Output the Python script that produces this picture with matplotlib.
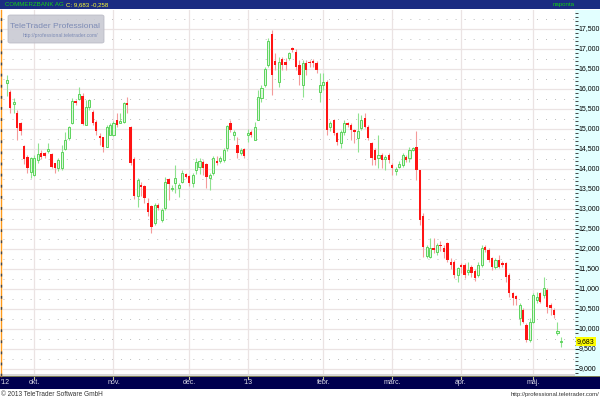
import numpy as np
import pandas as pd
import matplotlib
matplotlib.use("Agg")
import matplotlib.pyplot as plt
from matplotlib import font_manager
from matplotlib.patches import Rectangle, FancyBboxPatch
from matplotlib.transforms import blended_transform_factory
from matplotlib.ticker import MultipleLocator

# ---------------- data ----------------
opens = [16.14, 15.93, 15.63, 15.41, 15.16, 14.58, 14.31, 13.93, 13.85, 14.23,
         14.39, 14.39, 14.45, 14.38, 14.14, 14.02, 14.02, 14.49, 14.77, 15.14,
         15.70, 15.74, 15.83, 15.10, 15.56, 15.43, 15.18, 14.83, 14.79, 14.56,
         14.85, 14.85, 15.23, 15.16, 15.18, 15.64, 15.04, 14.25, 13.33, 13.60,
         13.58, 13.14, 13.08, 12.64, 13.10, 12.73, 13.02, 13.74, 13.49, 13.64,
         13.52, 13.68, 13.87, 13.83, 13.64, 13.97, 14.06, 14.18, 14.13, 13.77,
         13.89, 14.21, 14.19, 14.23, 14.52, 15.14, 14.85, 14.60, 14.39, 14.49,
         14.85, 14.93, 14.73, 15.23, 15.77, 16.10, 16.60, 17.38, 16.71, 16.18,
         16.74, 16.68, 16.77, 17.02, 16.93, 16.60, 16.10, 16.64, 16.68, 16.71,
         16.64, 15.93, 16.10, 16.18, 15.06, 15.23, 14.89, 14.64, 14.93, 15.14,
         15.10, 14.98, 14.77, 15.02, 15.27, 15.06, 14.64, 14.48, 14.27, 14.35,
         14.25, 14.35, 14.10, 13.95, 14.06, 14.10, 14.31, 14.27, 14.48, 14.56,
         13.98, 12.83, 11.83, 11.81, 12.02, 11.93, 12.10, 12.02, 12.14, 11.68,
         11.68, 11.35, 11.60, 11.60, 11.43, 11.56, 11.45, 11.35, 11.60, 12.04,
         11.98, 11.77, 11.56, 11.73, 11.64, 11.64, 11.35, 10.89, 10.83, 10.27,
         10.48, 10.10, 9.73, 10.18, 10.73, 10.89, 10.85, 10.98, 10.60, 10.48,
         9.91, 9.67]
highs = [16.35, 15.98, 15.78, 15.48, 15.18, 14.60, 14.35, 14.31, 14.35, 14.64,
         14.48, 14.43, 14.64, 14.40, 14.16, 14.27, 14.60, 14.93, 15.08, 15.77,
         15.73, 16.06, 15.89, 15.73, 15.74, 15.48, 15.23, 14.89, 14.79, 15.10,
         15.14, 15.20, 15.39, 15.39, 15.68, 15.81, 15.08, 14.30, 13.78, 13.68,
         13.60, 13.27, 13.10, 13.14, 13.14, 13.02, 13.81, 13.78, 13.60, 14.10,
         13.64, 13.98, 13.89, 13.85, 13.89, 14.27, 14.27, 14.23, 14.14, 13.90,
         14.33, 14.33, 14.33, 14.52, 15.10, 15.23, 14.98, 14.81, 14.52, 14.52,
         15.00, 14.98, 15.18, 15.98, 16.10, 16.56, 17.27, 17.48, 16.89, 16.79,
         16.79, 16.78, 16.93, 17.06, 17.00, 16.73, 16.73, 16.73, 16.73, 16.75,
         16.70, 16.39, 16.39, 16.23, 15.20, 15.25, 14.93, 14.98, 15.23, 15.18,
         15.14, 15.00, 15.39, 15.35, 15.39, 15.10, 14.68, 14.52, 14.85, 14.39,
         14.35, 14.39, 14.14, 14.06, 14.19, 14.39, 14.35, 14.56, 14.56, 14.95,
         13.98, 12.89, 12.10, 12.27, 12.27, 12.14, 12.20, 12.10, 12.18, 11.77,
         11.73, 11.56, 11.64, 11.64, 11.68, 11.60, 11.50, 11.68, 12.10, 12.10,
         12.02, 11.81, 11.77, 11.85, 11.70, 11.68, 11.39, 10.93, 10.85, 10.64,
         10.52, 10.14, 10.27, 10.89, 10.93, 10.93, 11.31, 11.02, 10.64, 10.52,
         10.18, 9.81]
lows = [15.83, 15.40, 15.40, 14.73, 14.85, 14.13, 13.91, 13.77, 13.82, 14.14,
        14.25, 14.28, 14.39, 14.02, 13.89, 13.95, 13.98, 14.48, 14.73, 15.13,
        15.60, 15.73, 15.10, 15.10, 15.48, 15.10, 14.85, 14.60, 14.43, 14.56,
        14.85, 14.82, 15.06, 15.14, 15.14, 15.39, 14.10, 13.25, 13.06, 13.33,
        13.14, 12.83, 12.41, 12.60, 12.97, 12.68, 12.98, 13.23, 13.45, 13.39,
        13.31, 13.65, 13.77, 13.58, 13.56, 13.87, 13.87, 13.85, 13.52, 13.48,
        13.85, 14.10, 14.14, 14.18, 14.46, 14.93, 14.73, 14.27, 14.35, 14.27,
        14.68, 14.80, 14.73, 15.23, 15.68, 16.06, 16.56, 15.85, 16.48, 16.05,
        16.48, 16.48, 16.73, 16.93, 16.48, 16.10, 15.81, 16.35, 16.56, 16.56,
        16.40, 15.68, 15.98, 14.85, 14.95, 14.85, 14.60, 14.52, 14.85, 15.06,
        14.73, 14.64, 14.43, 14.98, 15.02, 14.73, 14.10, 14.10, 14.02, 14.02,
        13.98, 14.14, 13.85, 13.85, 14.02, 14.06, 14.18, 14.18, 14.45, 13.73,
        12.60, 11.81, 11.78, 11.77, 11.89, 11.85, 11.95, 11.77, 11.68, 11.50,
        11.27, 11.18, 11.39, 11.27, 11.35, 11.31, 11.20, 11.30, 11.56, 11.93,
        11.68, 11.48, 11.50, 11.52, 11.55, 11.18, 10.81, 10.60, 10.60, 10.10,
        10.14, 9.68, 9.68, 10.14, 10.64, 10.64, 10.77, 10.39, 10.35, 10.27,
        9.85, 9.56]
closes = [16.22, 15.52, 15.68, 15.02, 14.96, 14.24, 14.02, 14.27, 14.27, 14.37,
          14.31, 14.33, 14.49, 14.06, 14.02, 14.23, 14.43, 14.73, 15.04, 15.70,
          15.64, 15.87, 15.13, 15.56, 15.73, 15.14, 14.96, 14.77, 14.56, 15.06,
          15.10, 15.16, 15.10, 15.20, 15.64, 15.60, 14.15, 13.32, 13.73, 13.54,
          13.27, 12.93, 12.56, 13.10, 13.02, 12.98, 13.68, 13.63, 13.53, 13.77,
          13.60, 13.91, 13.81, 13.64, 13.85, 14.18, 14.21, 14.02, 13.79, 13.85,
          14.27, 14.16, 14.27, 14.48, 15.08, 14.98, 14.93, 14.39, 14.48, 14.33,
          14.91, 14.85, 15.06, 15.79, 16.02, 16.49, 17.21, 16.35, 16.60, 16.68,
          16.60, 16.60, 16.89, 16.98, 16.56, 16.35, 16.64, 16.48, 16.64, 16.64,
          16.48, 16.10, 16.18, 14.98, 15.14, 14.89, 14.68, 14.93, 15.14, 15.10,
          14.98, 14.93, 14.95, 15.23, 15.06, 14.77, 14.27, 14.23, 14.35, 14.23,
          14.31, 14.23, 14.02, 14.00, 14.12, 14.35, 14.23, 14.48, 14.53, 13.98,
          12.73, 12.06, 12.04, 12.02, 11.98, 12.10, 12.08, 11.93, 11.73, 11.60,
          11.35, 11.52, 11.56, 11.35, 11.48, 11.39, 11.27, 11.60, 12.02, 11.98,
          11.73, 11.56, 11.73, 11.56, 11.60, 11.31, 10.89, 10.77, 10.74, 10.60,
          10.18, 9.73, 10.18, 10.85, 10.79, 10.68, 11.02, 10.56, 10.52, 10.35,
          9.94, 9.683]

first_day = "2012-09-19"
holidays = ["2012-12-24", "2012-12-25", "2012-12-26", "2012-12-31",
            "2013-01-01", "2013-03-29", "2013-04-01", "2013-05-01"]
month_labels = ["okt.", "nov.", "dec.", "'13", "febr.", "márc.", "ápr.", "máj."]
year_label = "'12"
y_ticks = [9.0 + 0.5 * k for k in range(18)]
instrument = "COMMERZBANK AG"
last_close = 9.683
change = -0.258
period = "naponta"

# ---------------- helpers ----------------
names = {f.name for f in font_manager.fontManager.ttflist}
FONT = "Liberation Sans"
NARROW = "Liberation Sans Narrow" if "Liberation Sans Narrow" in names else "Liberation Sans"
HAS_NARROW = NARROW != FONT
plt.rcParams["font.family"] = [FONT, "DejaVu Sans"]


def hu(v, nd=3):
    return f"{v:.{nd}f}".replace(".", ",")


o = np.array(opens)
h = np.array(highs)
l = np.array(lows)
c = np.array(closes)
N = len(c)

hol = set(pd.to_datetime(holidays))
dates = []
d = pd.Timestamp(first_day)
while len(dates) < N:
    if d.weekday() < 5 and d not in hol:
        dates.append(d)
    d += pd.Timedelta(days=1)
dates = pd.DatetimeIndex(dates)
month_starts = [i for i in range(1, N) if dates[i].month != dates[i - 1].month]
idx = np.arange(N)

W, H = 600, 400
fig = plt.figure(figsize=(6, 4), dpi=100)
fig.patch.set_facecolor("white")


def fr(x0, y0, w, hgt):
    """pixel box (top-left origin) -> figure fraction rect"""
    return [x0 / W, 1 - (y0 + hgt) / H, w / W, hgt / H]


YMIN, YMAX = 8.825, 17.975
XMIN, XMAX = -1.1, 165.1

# main axes
ax = fig.add_axes(fr(3, 10, 572, 366))
ax.set_xlim(XMIN, XMAX)
ax.set_ylim(YMIN, YMAX)
ax.set_facecolor("white")
for s in ax.spines.values():
    s.set_visible(False)
ax.set_xticks([])
ax.set_yticks([])

# grid
for yv in y_ticks:
    ax.axhline(yv, color="#ebe3e3", lw=0.9, zorder=0)
    ax.axhline(yv + 0.25, color="#bdbdbd", lw=0.7, ls=(0, (1, 8.3)), zorder=0)
ax.axhline(8.75, color="#bdbdbd", lw=0.7, ls=(0, (1, 8.3)), zorder=0)
for ms in month_starts:
    ax.axvline(ms, color="#ebe3e3", lw=0.9, zorder=0)

# candles
up = c >= o
body_lo = np.minimum(o, c)
body_h = np.maximum(np.abs(c - o), 0.025)
ax.vlines(idx[up], l[up], h[up], color="#8ee28e", lw=0.8, zorder=2)
ax.vlines(idx[~up], l[~up], h[~up], color="#f49a9a", lw=0.8, zorder=2)
ax.bar(idx[up], body_h[up], bottom=body_lo[up], width=0.62,
       facecolor="#dcf6dc", edgecolor="#5cd45c", linewidth=0.7, zorder=3)
ax.bar(idx[~up], body_h[~up], bottom=body_lo[~up], width=0.7,
       color="#ff1414", linewidth=0, zorder=3)

# bottom light band inside plot
fig.add_artist(Rectangle((0, 1 - 375.5 / H), 575 / W, 1.8 / H, transform=fig.transFigure,
                         facecolor="#d9d9d9", edgecolor="none"))
fig.add_artist(Rectangle((0, 1 - 377.3 / H), 600 / W, 1.4 / H, transform=fig.transFigure,
                         facecolor="#7b7b52", edgecolor="none"))

# left border (orange with dark dashes)
fig.add_artist(plt.Line2D([1.2 / W, 1.2 / W], [1 - 376 / H, 1 - 10 / H], transform=fig.transFigure,
                          color="#ff9a1a", lw=1.0))
fig.add_artist(plt.Line2D([1.2 / W, 1.2 / W], [1 - 376 / H, 1 - 10 / H], transform=fig.transFigure,
                          color="#444444", lw=1.0, ls=(0, (2, 6))))

# right price panel
pax = fig.add_axes(fr(575, 10, 25, 366))
pax.set_facecolor("#e2ffff")
pax.set_ylim(YMIN, YMAX)
pax.set_xlim(0, 1)
pax.set_xticks([])
for s in pax.spines.values():
    s.set_visible(False)
pax.yaxis.set_major_locator(MultipleLocator(0.5))
pax.yaxis.set_minor_locator(MultipleLocator(0.1))
pax.tick_params(axis="y", which="major", direction="in", length=3, width=0.7,
                color="#222222", labelleft=False)
pax.tick_params(axis="y", which="minor", direction="in", length=1.8, width=0.7,
                color="#444444")
for yv in y_ticks:
    pax.text(0.13, yv, hu(yv), fontsize=5, color="#000000", ha="left", va="center",
             family=NARROW)
pax.text(0.08, last_close, hu(last_close), fontsize=5, color="#000000", ha="left", va="center",
         bbox=dict(boxstyle="square,pad=0.15", facecolor="#ffff00", edgecolor="none"),
         zorder=5)

# top bar
fig.add_artist(Rectangle((0, 1 - 9 / H), 1, 9 / H, transform=fig.transFigure,
                         facecolor="#1b2c82", edgecolor="none"))
tsize = 5.2 if HAS_NARROW else 4.4
fig.text(5 / W, 1 - 4.8 / H, instrument, fontsize=tsize, color="#14d214", ha="left", va="center",
         family=NARROW)
fig.text(66 / W, 1 - 4.8 / H, f"C: {hu(last_close)} {hu(change)}", fontsize=tsize, color="#ffff30",
         ha="left", va="center", family=NARROW)
fig.text(575 / W, 1 - 4.8 / H, period, fontsize=tsize, color="#14d214", ha="right", va="center",
         family=NARROW)

# watermark
fig.add_artist(FancyBboxPatch((8 / W, 1 - 43 / H), 96 / W, 28 / H,
                              boxstyle="round,pad=0,rounding_size=0.004",
                              transform=fig.transFigure, facecolor="#c9cad3",
                              edgecolor="#b8b9c4", lw=0.6, alpha=0.9, zorder=10))
fig.text(55.5 / W, 1 - 26 / H, "TeleTrader Professional", fontsize=7.2 if HAS_NARROW else 6.1,
         color="#7d8bb5", ha="center", va="center", family=NARROW, zorder=11)
fig.text(60 / W, 1 - 36 / H, "http://professional.teletrader.com/", fontsize=3.6,
         color="#7d8bb5", ha="center", va="center", family=NARROW, zorder=11)

# date bar
fig.add_artist(Rectangle((0, 1 - 388.5 / H), 1, 11.3 / H, transform=fig.transFigure,
                         facecolor="#00004e", edgecolor="none"))
tr = blended_transform_factory(ax.transData, fig.transFigure)
for ms, lab in zip(month_starts, month_labels):
    fig.text(ms, 1 - 383 / H, lab, transform=tr, fontsize=5, color="#d8d8e6",
             ha="center", va="center", family=NARROW)
    fig.add_artist(plt.Line2D([ms, ms], [1 - 378.8 / H, 1 - 377.3 / H], transform=tr,
                              color="#c8c8a0", lw=0.8))
fig.text(1 / W, 1 - 383 / H, year_label, fontsize=5, color="#d8d8e6", ha="left", va="center",
         family=NARROW)

# footer
fig.text(1 / W, 1 - 394.5 / H, "© 2013 TeleTrader Software GmbH", fontsize=4.7, color="#333333",
         ha="left", va="center", family=NARROW)
fig.text(599 / W, 1 - 394.5 / H, "http://professional.teletrader.com/", fontsize=4.3,
         color="#333333", ha="right", va="center", family=NARROW)

fig.savefig("out.png", dpi=100)
